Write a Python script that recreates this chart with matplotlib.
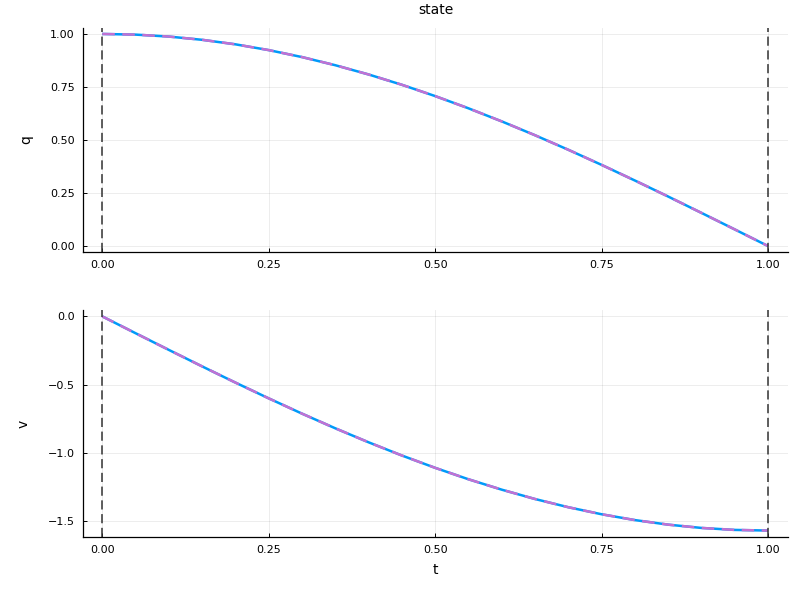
import matplotlib
matplotlib.use("Agg")
import matplotlib.pyplot as plt

# =========================================
# DATA
# =========================================
t = [0.00, 0.05, 0.10, 0.15, 0.20, 0.25, 0.30, 0.35, 0.40, 0.45, 0.50,
     0.55, 0.60, 0.65, 0.70, 0.75, 0.80, 0.85, 0.90, 0.95, 1.00]

q = [1.0000, 0.9969, 0.9877, 0.9724, 0.9511, 0.9239, 0.8910, 0.8526,
     0.8090, 0.7604, 0.7071, 0.6495, 0.5878, 0.5225, 0.4540, 0.3827,
     0.3090, 0.2335, 0.1564, 0.0785, 0.0000]

v = [0.0000, -0.1232, -0.2457, -0.3667, -0.4854, -0.6011, -0.7131,
     -0.8207, -0.9233, -1.0202, -1.1107, -1.1945, -1.2708, -1.3393,
     -1.3996, -1.4512, -1.4939, -1.5274, -1.5515, -1.5660, -1.5708]

t_bounds = [0.0, 1.0]

q_ticks = [0.00, 0.25, 0.50, 0.75, 1.00]
v_ticks = [0.0, -0.5, -1.0, -1.5]
t_ticks = [0.00, 0.25, 0.50, 0.75, 1.00]

BLUE = "#009af9"
PURPLE = "#c271d2"

# =========================================
# FIGURE
# =========================================
fig = plt.figure(figsize=(8, 6), dpi=100)

ax1 = fig.add_axes([0.10375, 0.58, 0.88125, 0.3733])
ax2 = fig.add_axes([0.10375, 0.105, 0.88125, 0.3783])


def style(ax):
    for side in ["top", "right"]:
        ax.spines[side].set_visible(False)
    ax.spines["left"].set_linewidth(0.9)
    ax.spines["bottom"].set_linewidth(0.9)
    ax.grid(True, color="#000000", alpha=0.07, linewidth=0.7)
    ax.set_axisbelow(True)
    ax.tick_params(direction="in", length=3, width=0.7, labelsize=8,
                   colors="black", pad=6)
    ax.set_xlim(-0.029, 1.030)
    ax.set_xticks(t_ticks)
    ax.set_xticklabels([f"{x:.2f}" for x in t_ticks])


# top: q
style(ax1)
ax1.plot(t, q, color=BLUE, linewidth=1.8, solid_capstyle="butt")
ax1.plot(t, q, color=PURPLE, linewidth=1.8, linestyle=(0, (5, 3)))
for tb in t_bounds:
    ax1.axvline(tb, color="#333333", linewidth=1.1, linestyle=(0, (6, 3)))
ax1.set_ylim(-0.028, 1.028)
ax1.set_yticks(q_ticks)
ax1.set_yticklabels([f"{y:.2f}" for y in q_ticks])
ax1.set_ylabel("q", fontsize=10, labelpad=12)
ax1.set_title("state", fontsize=10, pad=10)

# bottom: v
style(ax2)
ax2.plot(t, v, color=BLUE, linewidth=1.8, solid_capstyle="butt")
ax2.plot(t, v, color=PURPLE, linewidth=1.8, linestyle=(0, (5, 3)))
for tb in t_bounds:
    ax2.axvline(tb, color="#333333", linewidth=1.1, linestyle=(0, (6, 3)))
ax2.set_ylim(-1.618, 0.047)
ax2.set_yticks(v_ticks)
ax2.set_yticklabels([f"{y:.1f}".replace("-", "\u2212") for y in v_ticks])
ax2.set_ylabel("v", fontsize=10, labelpad=12)
ax2.set_xlabel("t", fontsize=10, labelpad=5.5)

fig.savefig("out.png", dpi=100)
